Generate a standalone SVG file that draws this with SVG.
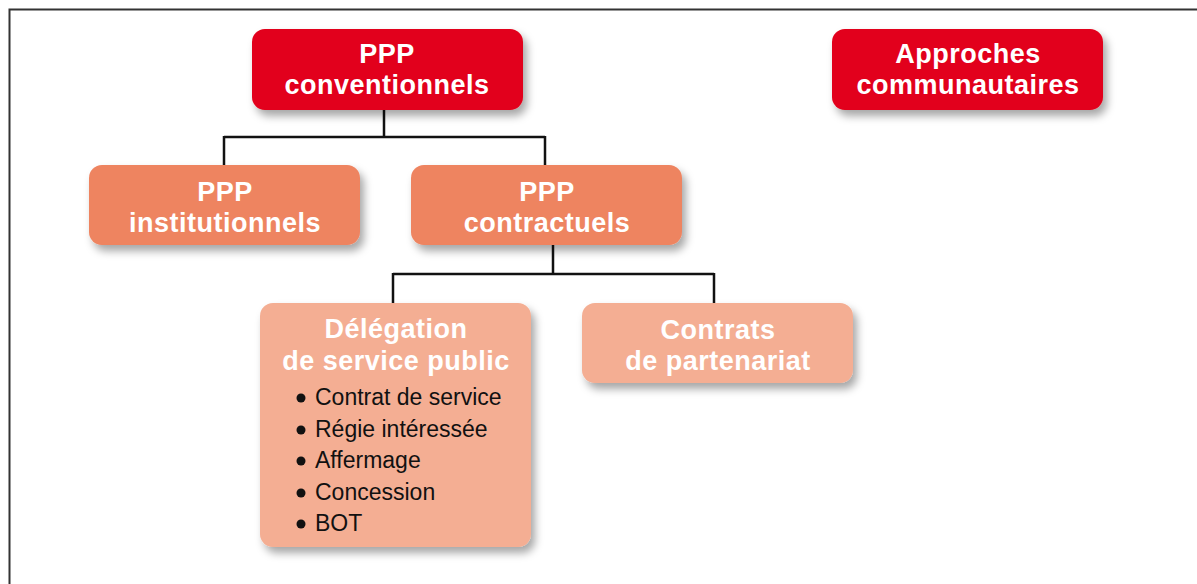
<svg xmlns="http://www.w3.org/2000/svg" width="1197" height="584" viewBox="0 0 1197 584">
<defs>
<filter id="sh" x="-10%" y="-10%" width="130%" height="140%">
<feDropShadow dx="4" dy="6" stdDeviation="4" flood-color="#000" flood-opacity="0.35"/>
</filter>
<style>
.box{filter:url(#sh)}
.red{fill:#E2001A}
.mid{fill:#EE8461}
.light{fill:#F4AE93}
.t{font-family:"Liberation Sans",Arial,sans-serif;font-weight:bold;font-size:27px;fill:#fff;text-anchor:middle;letter-spacing:0.5px}
.b{font-family:"Liberation Sans",Arial,sans-serif;font-size:23px;fill:#111}
.c{fill:none;stroke:#111;stroke-width:2.5}
</style>
</defs>
<rect width="1197" height="584" fill="#fff"/>
<path d="M9.5,584 V9.5 H1197" fill="none" stroke="#333" stroke-width="2"/>
<g id="connectors">
<path class="c" d="M384,110 V137 M224,137 H545 M224,136 V165 M545,136 V165"/>
<path class="c" d="M553,245 V274 M393,274 H714 M393,273 V303 M714,273 V303"/>
</g>
<g id="ppp-conventionnels">
<rect class="box red" x="252" y="29" width="271" height="81" rx="13"/>
<text class="t" x="387" y="63">PPP</text>
<text class="t" x="387" y="94">conventionnels</text>
</g>
<g id="approches-communautaires">
<rect class="box red" x="832" y="29" width="271" height="81" rx="13"/>
<text class="t" x="968" y="63">Approches</text>
<text class="t" x="968" y="94">communautaires</text>
</g>
<g id="ppp-institutionnels">
<rect class="box mid" x="89" y="165" width="271" height="80" rx="13"/>
<text class="t" x="225" y="201">PPP</text>
<text class="t" x="225" y="232">institutionnels</text>
</g>
<g id="ppp-contractuels">
<rect class="box mid" x="411" y="165" width="271" height="80" rx="13"/>
<text class="t" x="547" y="201">PPP</text>
<text class="t" x="547" y="232">contractuels</text>
</g>
<g id="delegation">
<rect class="box light" x="260" y="303" width="271" height="244" rx="13"/>
<text class="t" x="396" y="338">Délégation</text>
<text class="t" x="396" y="370">de service public</text>
<g class="b">
<circle cx="301" cy="398" r="4.5" fill="#111"/><text x="315" y="405">Contrat de service</text>
<circle cx="301" cy="430" r="4.5" fill="#111"/><text x="315" y="437">Régie intéressée</text>
<circle cx="301" cy="461" r="4.5" fill="#111"/><text x="315" y="468">Affermage</text>
<circle cx="301" cy="493" r="4.5" fill="#111"/><text x="315" y="500">Concession</text>
<circle cx="301" cy="524" r="4.5" fill="#111"/><text x="315" y="531">BOT</text>
</g>
</g>
<g id="contrats-partenariat">
<rect class="box light" x="582" y="303" width="271" height="80" rx="13"/>
<text class="t" x="718" y="339">Contrats</text>
<text class="t" x="718" y="370">de partenariat</text>
</g>
</svg>
